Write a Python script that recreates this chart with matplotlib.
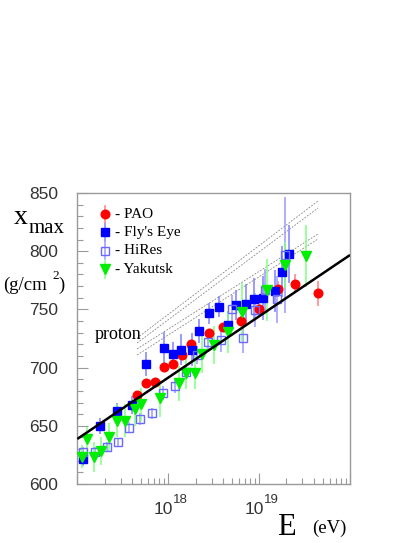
import numpy as np
import matplotlib
matplotlib.use("Agg")
import matplotlib.pyplot as plt
from matplotlib.ticker import FixedLocator, NullFormatter

# ---------------- data (log10 E [eV], Xmax [g/cm2], error) ----------------
pao_lgE = [17.653, 17.756, 17.855, 17.954, 18.05, 18.149, 18.255, 18.452, 18.60,
           18.801, 18.999, 19.205, 19.398, 19.651]
pao_x = [676.5, 686.5, 687.9, 700.1, 703.5, 710.8, 720.3, 729.5, 734.6,
         740.3, 750.3, 767.3, 772.1, 763.8]
pao_err = [3, 3, 3, 3, 3, 3, 3, 3, 4, 4, 5, 7, 8, 11]

fly_lgE = [17.066, 17.25, 17.433, 17.598, 17.756, 17.959, 18.05, 18.144, 18.259, 18.344,
           18.452, 18.559, 18.655, 18.743, 18.856, 18.944, 19.046, 19.172, 19.255, 19.332]
fly_x = [621.2, 650.1, 663.0, 667.9, 703.1, 716.6, 712.1, 715.5, 715.5, 731.4,
         746.6, 752.3, 736.6, 753.5, 754.6, 758.9, 760.1, 766.1, 782.4, 797.6]
fly_err = [6, 7, 7, 8, 10, 14, 10, 13, 14, 10, 9, 9, 12, 13, 17, 18, 19, 18, 22, 25]

hires_lgE = [17.066, 17.195, 17.323, 17.451, 17.572, 17.69, 17.818, 17.946, 18.075, 18.2,
             18.314, 18.441, 18.578, 18.699, 18.82, 18.955, 19.065, 19.194, 19.285]
hires_x = [627.7, 627.7, 632.0, 635.8, 648.4, 655.8, 660.7, 678.4, 684.5, 696.5,
           710.8, 722.3, 723.7, 750.3, 725.2, 749.5, 766.7, 758.7, 796.7]
hires_err = [4, 4, 4, 4, 5, 5, 5, 6, 6, 7, 8, 9, 10, 12, 13, 15, 18, 20, 50]

yak_lgE = [17.048, 17.103, 17.184, 17.257, 17.349, 17.44, 17.525, 17.635, 17.701, 17.91,
           18.116, 18.193, 18.295, 18.375, 18.501, 18.661, 18.815, 19.09, 19.288, 19.516]
yak_x = [623.5, 638.7, 623.5, 628.6, 640.6, 654.4, 654.4, 664.2, 668.5, 673.6,
         686.5, 695.6, 695.6, 711.4, 719.4, 730.3, 747.5, 766.7, 788.1, 795.9]
yak_err = [10, 10, 13, 12, 12, 14, 14, 14, 14, 16, 15, 14, 14, 16, 16, 18, 25, 27, 20, 27]

# proton fit line (endpoints)
fit_lgE = [17.0, 20.0]
fit_x = [638.7, 796.7]

# proton model bands (dashed)
band_lgE = [17.657, 19.648]
band_x = [[725.4, 843.1], [721.1, 837.1], [716.0, 814.8], [710.8, 810.5]]

legend_labels = ["- PAO", "- Fly's Eye", "- HiRes", "- Yakutsk"]
ytick_vals = [600, 650, 700, 750, 800, 850]
xlab_exp = ["18", "19"]

# ---------------- figure ----------------
W, H = 420, 543
fig = plt.figure(figsize=(W / 100, H / 100), dpi=100)
L, R, B, T = 77.3, 350, 484, 193
ax = fig.add_axes([L / W, 1 - B / H, (R - L) / W, (B - T) / H])

SERIF = ["Liberation Serif", "DejaVu Serif"]
SANS = ["Liberation Sans", "DejaVu Sans"]

ax.set_xscale("log")
ax.set_xlim(1e17, 1e20)
ax.set_ylim(600, 850)

for sp in ax.spines.values():
    sp.set_color("#9a9a9a")
    sp.set_linewidth(1.0)

ax.xaxis.set_major_locator(FixedLocator([1e17, 1e18, 1e19, 1e20]))
ax.xaxis.set_minor_locator(FixedLocator([m * 10.0 ** d for d in (17, 18, 19) for m in range(2, 10)]))
ax.xaxis.set_major_formatter(NullFormatter())
ax.xaxis.set_minor_formatter(NullFormatter())
ax.yaxis.set_major_locator(FixedLocator(ytick_vals))
ax.yaxis.set_minor_locator(FixedLocator(list(range(600, 851, 10))))
ax.set_yticklabels([str(v) for v in ytick_vals], fontfamily=SANS, fontsize=12.5, color="#333333")
ax.tick_params(axis="both", which="major", direction="in", length=8, width=0.8, color="#9a9a9a")
ax.tick_params(axis="both", which="minor", direction="in", length=4, width=0.8, color="#9a9a9a")
ax.tick_params(axis="y", which="major", pad=14)
ax.tick_params(top=False, right=False, which="both")

E = lambda lg: np.power(10.0, np.asarray(lg))

# dashed model lines
for bx in band_x:
    ax.plot(E(band_lgE), bx, ls=(0, (2.2, 1.6)), color="#8a8a8a", lw=0.6, zorder=1)

# data with error bars
series = [
    (pao_lgE, pao_x, pao_err, dict(marker="o", ms=6.2, mfc="#ff0000", mec="#ff0000"), "#ff8080"),
    (fly_lgE, fly_x, fly_err, dict(marker="s", ms=5.6, mfc="#0000ff", mec="#0000ff"), "#8080ff"),
    (hires_lgE, hires_x, hires_err, dict(marker="s", ms=5.6, mfc="none", mec="#6a6aff", mew=1.0), "#9a9aff"),
    (yak_lgE, yak_x, yak_err, dict(marker="v", ms=6.5, mfc="#00ee00", mec="#00ee00"), "#80ff80"),
]
for lg, xv, er, mk, ec in series:
    ax.errorbar(E(lg), xv, yerr=er, fmt="none", ecolor=ec, elinewidth=1.1, capsize=0, zorder=2)
for lg, xv, er, mk, ec in series:
    ax.plot(E(lg), xv, ls="none", zorder=3, **mk)

ax.plot(E(fit_lgE), fit_x, color="black", lw=1.8, zorder=4, solid_capstyle="butt")

# legend (manual)
leg_y = [0.927, 0.865, 0.802, 0.738]
for (lg, xv, er, mk, ec), yy, lab in zip(series, leg_y, legend_labels):
    ax.plot([0.1016, 0.1016], [yy - 0.03, yy + 0.03], color=ec, lw=1.1, transform=ax.transAxes, zorder=5)
    ax.plot([0.1016], [yy], ls="none", transform=ax.transAxes, zorder=6, **mk)
    ax.text(0.1386, yy, lab, transform=ax.transAxes, fontsize=11, fontfamily=SERIF,
            va="center", ha="left", zorder=6)

ax.text(0.065, 0.498, "proton", transform=ax.transAxes, fontsize=13, fontfamily=SERIF,
        va="baseline", ha="left")

# axis labels in figure pixels
def fp(x, y):
    return x / W, 1 - y / H

fig.text(*fp(14, 224), "x", fontsize=20, fontfamily=SERIF, va="baseline", ha="left")
fig.text(*fp(29, 233), "max", fontsize=15, fontfamily=SERIF, va="baseline", ha="left")
fig.text(*fp(3, 290), "(g/cm", fontsize=13.5, fontfamily=SERIF, va="baseline", ha="left")
fig.text(*fp(52, 279), "2", fontsize=9.5, fontfamily=SERIF, va="baseline", ha="left")
fig.text(*fp(58, 290), ")", fontsize=13.5, fontfamily=SERIF, va="baseline", ha="left")

for dec, ex in zip([1e18, 1e19], xlab_exp):
    xpix = ax.transData.transform((dec, 700))[0]
    fig.text(xpix / W + 4.5 / W, 1 - 514 / H, "10", fontsize=12.5, fontfamily=SANS,
             color="#333333", va="baseline", ha="right")
    fig.text(xpix / W + 5.0 / W, 1 - 503 / H, ex, fontsize=9.5, fontfamily=SANS,
             color="#333333", va="baseline", ha="left")

fig.text(*fp(277, 535), "E", fontsize=22, fontfamily=SERIF, va="baseline", ha="left")
fig.text(*fp(312, 533), "(eV)", fontsize=13.5, fontfamily=SERIF, va="baseline", ha="left")

fig.savefig("out.png", dpi=100)
